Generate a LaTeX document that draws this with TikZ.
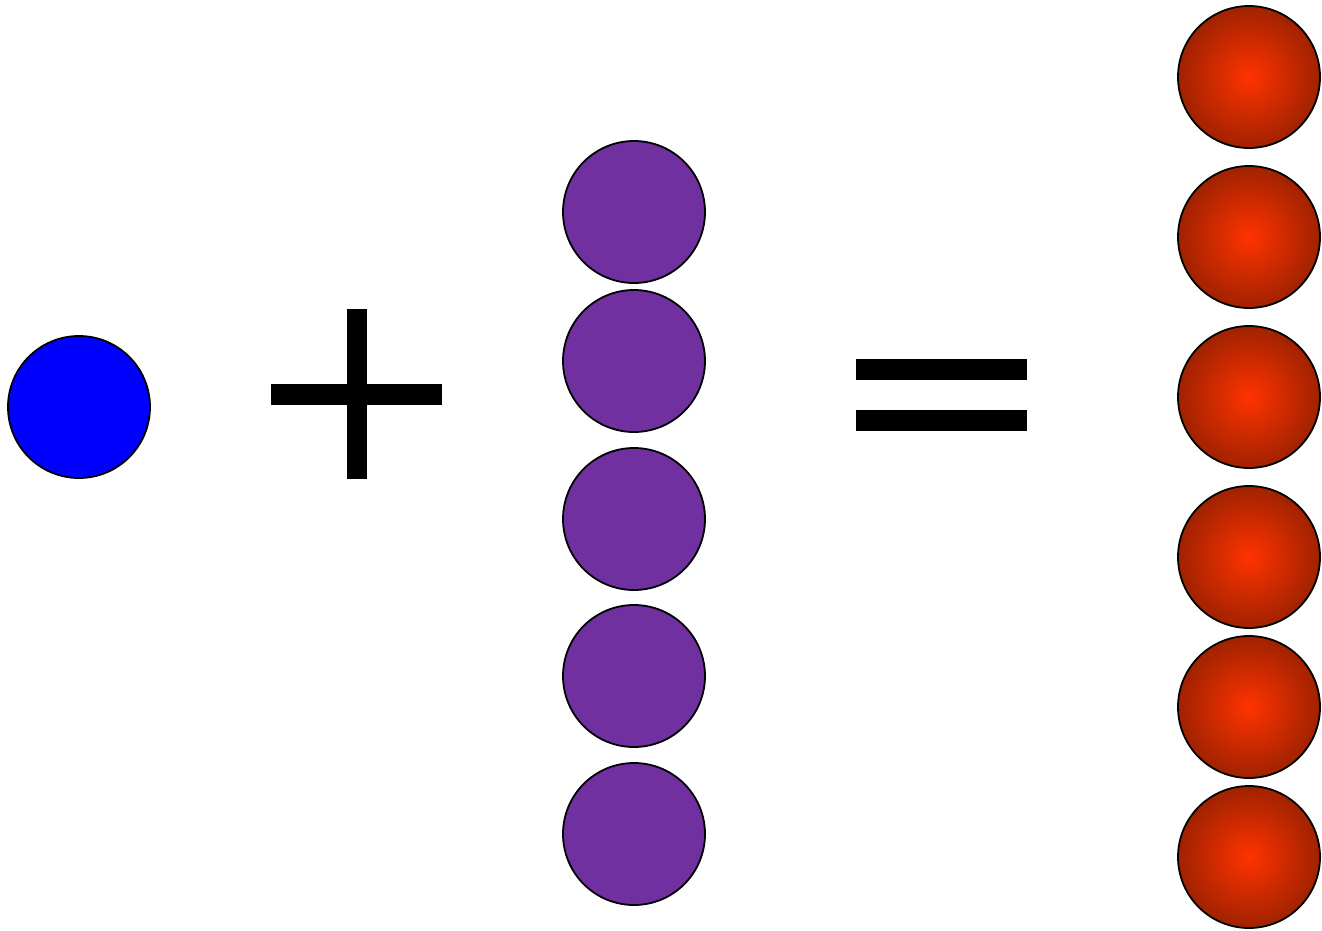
\documentclass[tikz,border=0pt]{standalone}
\begin{document}
\begin{tikzpicture}[x=1pt,y=-1pt,
  ball/.style={circle,draw=black,line width=1.8pt,minimum size=142pt,inner sep=0pt},
  blueball/.style={ball,fill=bluefill},
  purpleball/.style={ball,fill=purplefill},
  redball/.style={ball,inner color=redin,outer color=redout},
  bar/.style={fill=black,draw=none}]
\definecolor{bluefill}{RGB}{0,0,255}
\definecolor{purplefill}{RGB}{112,48,160}
\definecolor{redin}{RGB}{255,51,0}
\definecolor{redout}{RGB}{160,34,0}
\useasboundingbox (0,0) rectangle (1322,930);
\node[blueball] (b) at (79,407) {};
\foreach \y [count=\i] in {212,361,519,676,834}
  \node[purpleball] (p\i) at (634,\y) {};
\foreach \y [count=\i] in {77,237,397,557,707,857}
  \node[redball] (r\i) at (1249,\y) {};
% plus sign
\fill[bar] (347,309) rectangle (367,479);
\fill[bar] (271,384) rectangle (442,405);
% equals sign
\fill[bar] (856,359) rectangle (1027,380);
\fill[bar] (856,410) rectangle (1027,431);
\end{tikzpicture}
\end{document}
